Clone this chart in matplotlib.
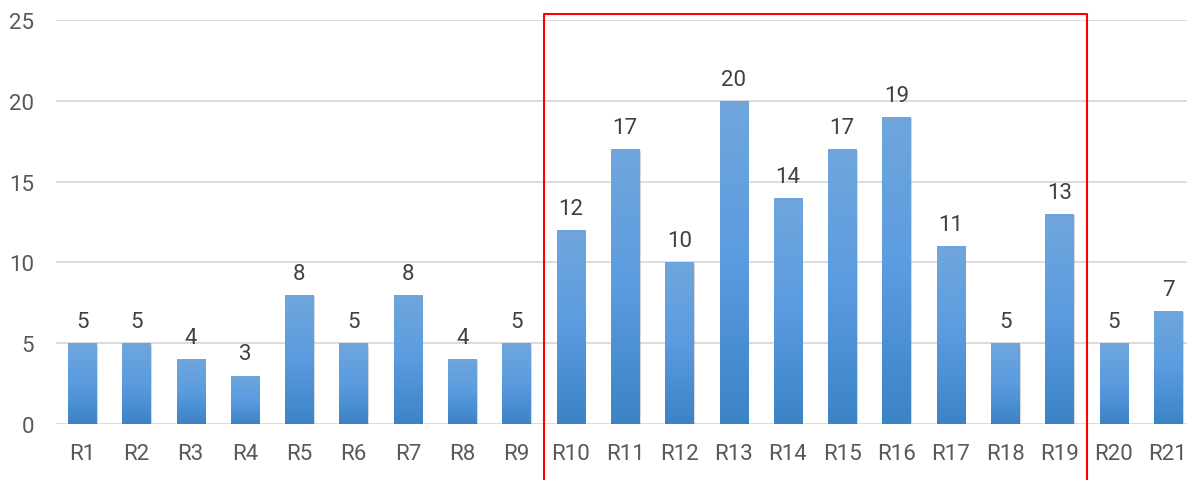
import matplotlib
matplotlib.use("Agg")
import matplotlib.pyplot as plt
import numpy as np
from matplotlib import patheffects as pe
from matplotlib.transforms import blended_transform_factory
from matplotlib.colors import LinearSegmentedColormap

categories = [f"R{i}" for i in range(1, 22)]
values = [5, 5, 4, 3, 8, 5, 8, 4, 5, 12, 17, 10, 20, 14, 17, 19, 11, 5, 13, 5, 7]
yticks = [0, 5, 10, 15, 20, 25]
highlight_start, highlight_end = "R10", "R19"

plt.rcParams['font.family'] = ['Roboto', 'DejaVu Sans']

fig = plt.figure(figsize=(11.87, 4.81), dpi=100)
ax = fig.add_axes([56/1187, 56/481, 1 - 56/1187, (460-56)/481])

x = np.arange(len(categories))
bars = ax.bar(x, values, width=0.52, color="#4a90d3", zorder=3,
              path_effects=[pe.SimplePatchShadow(offset=(1, -1), shadow_rgbFace="#909090", alpha=0.35), pe.Normal()])

grad = np.linspace(0, 1, 256).reshape(-1, 1)
cmap = LinearSegmentedColormap.from_list("g", ["#3c83c6", "#5b9be0", "#6fa7dc"])
for b in bars:
    x0, y0 = b.get_x(), b.get_y()
    w, h = b.get_width(), b.get_height()
    im = ax.imshow(grad, cmap=cmap, extent=(x0, x0 + w, y0, y0 + h), origin="lower",
                   aspect="auto", zorder=4, interpolation="bilinear")
    im.set_clip_path(b)

for xi, v in zip(x, values):
    ax.annotate(str(v), (xi, v), xytext=(0, 8), textcoords="offset points",
                ha="center", va="bottom", fontsize=16, color="#404040", zorder=5)

ax.set_xlim(-0.48, 20.35)
ax.set_ylim(0, 25)
ax.set_yticks(yticks)
ax.set_xticks(x)
ax.set_xticklabels(categories)
ax.tick_params(axis="both", length=0, labelsize=16, labelcolor="#595959")
ax.tick_params(axis="x", pad=14)
ax.tick_params(axis="y", pad=16)
ax.grid(axis="y", color="#d9d9d9", linewidth=1.3, zorder=0)
ax.set_axisbelow(True)
for s in ax.spines.values():
    s.set_visible(False)
ax.set_aspect("auto")

i0 = categories.index(highlight_start) - 0.5
i1 = categories.index(highlight_end) + 0.5
tr = blended_transform_factory(ax.transData, fig.transFigure)
ytop = 1 - 15/481
ax.plot([i0, i0, i1, i1], [-0.1, ytop, ytop, -0.1], transform=tr, color="#ff0000",
        lw=1.5, clip_on=False, zorder=6)

fig.savefig("out.png", dpi=100)
